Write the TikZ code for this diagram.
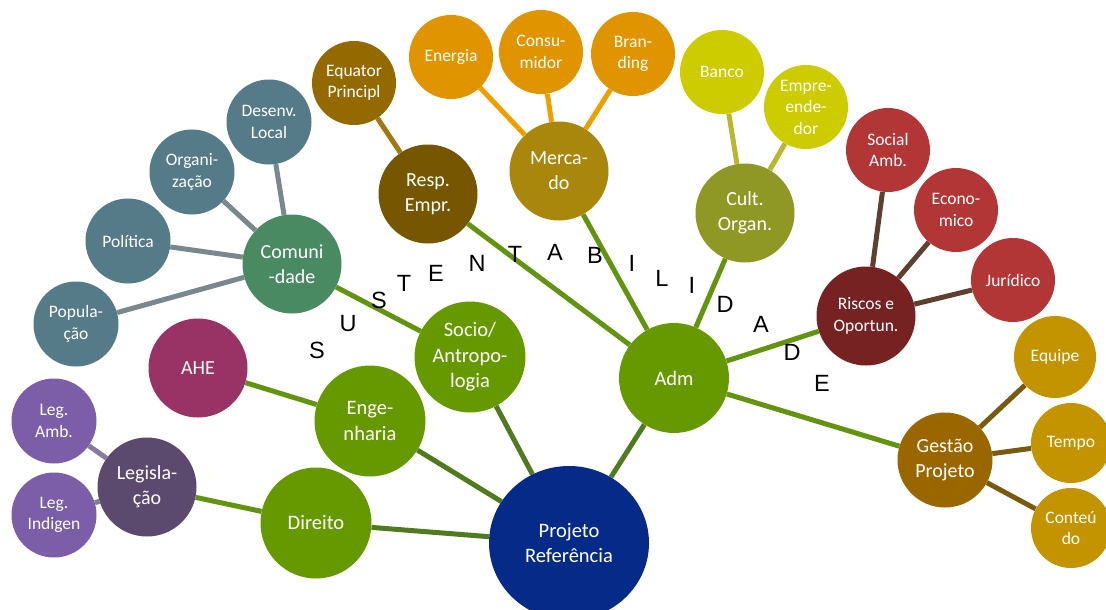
\documentclass[tikz,border=0pt]{standalone}
\usepackage{fontspec}
\setmainfont{Carlito}
\newfontfamily\letterfont{Liberation Sans}
\usetikzlibrary{backgrounds,shapes.geometric}
\definecolor{cblue}{RGB}{6,42,135}
\definecolor{cgreen}{RGB}{102,153,0}
\definecolor{lgreen}{RGB}{98,148,16}
\definecolor{lgreendk}{RGB}{80,122,30}
\definecolor{ccomu}{RGB}{74,138,98}
\definecolor{cbgray}{RGB}{85,122,136}
\definecolor{lgray}{RGB}{122,136,142}
\definecolor{cresp}{RGB}{118,86,0}
\definecolor{cequa}{RGB}{148,106,0}
\definecolor{lequa}{RGB}{160,122,16}
\definecolor{cmerc}{RGB}{169,135,13}
\definecolor{corange}{RGB}{224,149,0}
\definecolor{lorange}{RGB}{235,160,0}
\definecolor{ccult}{RGB}{144,152,37}
\definecolor{cyel}{RGB}{204,204,0}
\definecolor{lyel}{RGB}{184,184,48}
\definecolor{crisc}{RGB}{118,34,34}
\definecolor{cred}{RGB}{178,54,54}
\definecolor{lbrown}{RGB}{94,63,48}
\definecolor{cgest}{RGB}{154,102,0}
\definecolor{cgold}{RGB}{196,148,0}
\definecolor{lgold}{RGB}{122,90,16}
\definecolor{cahe}{RGB}{153,51,102}
\definecolor{clegis}{RGB}{92,74,110}
\definecolor{cleg}{RGB}{123,94,167}
\definecolor{llegis}{RGB}{138,122,154}
\tikzset{
  bub/.style={circle, inner sep=0pt, text=white, align=center},
  sm/.style={bub, minimum size=85pt, font=\fontsize{17.5}{21.5}\selectfont},
  md/.style={bub, minimum size=99pt, font=\fontsize{20}{25}\selectfont},
  lg/.style={bub, minimum size=111pt, font=\fontsize{20.5}{25.5}\selectfont},
  link/.style={line width=5pt},
  letter/.style={font=\letterfont\fontsize{23.5}{23.5}\selectfont, inner sep=0pt, text=black}
}
\begin{document}
\begin{tikzpicture}[x=1pt,y=-1pt]
\useasboundingbox (0,0) rectangle (1106,610);
% main
\node[ellipse, inner sep=0pt, minimum width=160pt, minimum height=154pt, fill=cblue, text=white, align=center, font=\fontsize{20.5}{25}\selectfont] (proj) at (569,543) {Projeto\\Referência};
\node[lg, fill=cgreen, minimum size=110pt] (adm) at (674,378) {Adm};
\node[lg, fill=cgreen] (socio) at (470,357) {Socio/\\Antropo-\\logia};
\node[lg, fill=cgreen] (eng) at (370,421) {Enge-\\nharia};
\node[lg, fill=cgreen] (dir) at (316,523) {Direito};
% left
\node[md, fill=ccomu] (comu) at (292,264) {Comuni\\-dade};
\node[sm, fill=cbgray] (desenv) at (269,122) {Desenv.\\Local};
\node[sm, fill=cbgray] (organ) at (192,172) {Organi-\\zação};
\node[sm, fill=cbgray] (polit) at (128,241) {Política};
\node[sm, fill=cbgray] (popul) at (76,324) {Popula-\\ção};
\node[md, fill=cahe] (ahe) at (198,368) {AHE};
\node[md, fill=clegis] (legis) at (147,487) {Legisla-\\ção};
\node[sm, fill=cleg] (legamb) at (54,421) {Leg.\\Amb.};
\node[sm, fill=cleg] (legind) at (54,515) {Leg.\\Indigen};
% top
\node[md, fill=cresp] (resp) at (428,194) {Resp.\\Empr.};
\node[sm, minimum size=84pt, fill=cequa] (equa) at (354,83) {Equator\\Principl};
\node[md, fill=cmerc] (merc) at (559,171) {Merca-\\do};
\node[sm, minimum size=84pt, fill=corange] (ener) at (451,57) {Energia};
\node[sm, minimum size=84pt, fill=corange] (cons) at (541,52) {Consu-\\midor};
\node[sm, minimum size=84pt, fill=corange] (brand) at (633,54) {Bran-\\ding};
\node[md, fill=ccult] (cult) at (745,213) {Cult.\\Organ.};
\node[sm, minimum size=84pt, fill=cyel] (banco) at (722,72) {Banco};
\node[sm, minimum size=84pt, fill=cyel] (empre) at (806,107) {Empre-\\ende-\\dor};
% right
\node[md, fill=crisc, font=\fontsize{17.5}{22}\selectfont] (risc) at (866,316) {Riscos e\\Oportun.};
\node[sm, minimum size=84pt, fill=cred] (social) at (888,150) {Social\\Amb.};
\node[sm, minimum size=84pt, fill=cred] (econ) at (956,210) {Econo-\\mico};
\node[sm, minimum size=84pt, fill=cred] (jur) at (1013,280) {Jurídico};
\node[md, minimum size=95pt, fill=cgest] (gest) at (945,460) {Gestão\\Projeto};
\node[sm, minimum size=82pt, fill=cgold] (equipe) at (1055,357) {Equipe};
\node[sm, minimum size=80pt, fill=cgold] (tempo) at (1071,443) {Tempo};
\node[sm, minimum size=80pt, fill=cgold] (cont) at (1071,528) {Conteú\\do};
% letters
\node[letter] (l1) at (317,350) {S};
\node[letter] (l2) at (348,324) {U};
\node[letter] (l3) at (379,300) {S};
\node[letter] (l4) at (404,283) {T};
\node[letter] (l5) at (436,273) {E};
\node[letter] (l6) at (477,263) {N};
\node[letter] (l7) at (515,254) {T};
\node[letter] (l8) at (555,252) {A};
\node[letter] (l9) at (595,255) {B};
\node[letter] (l10) at (632,263) {I};
\node[letter] (l11) at (662,278) {L};
\node[letter] (l12) at (692,285) {I};
\node[letter] (l13) at (725,304) {D};
\node[letter] (l14) at (761,324) {A};
\node[letter] (l15) at (792,352) {D};
\node[letter] (l16) at (822,383) {E};
\begin{pgfonlayer}{background}
\draw[link, lgreendk] (proj) -- (adm);
\draw[link, lgreendk] (proj) -- (socio);
\draw[link, lgreendk] (proj) -- (eng);
\draw[link, lgreendk] (proj) -- (dir);
\draw[link, lgreen] (adm) -- (resp);
\draw[link, lgreen] (adm) -- (merc);
\draw[link, lgreen] (adm) -- (cult);
\draw[link, lgreen] (adm) -- (risc);
\draw[link, lgreen] (adm) -- (gest);
\draw[link, lgreen] (socio) -- (comu);
\draw[link, lgreen] (eng) -- (ahe);
\draw[link, lgreen] (dir) -- (legis);
\draw[link, lgray] (comu) -- (desenv);
\draw[link, lgray] (comu) -- (organ);
\draw[link, lgray] (comu) -- (polit);
\draw[link, lgray] (comu) -- (popul);
\draw[link, lequa] (resp) -- (equa);
\draw[link, lorange] (merc) -- (ener);
\draw[link, lorange] (merc) -- (cons);
\draw[link, lorange] (merc) -- (brand);
\draw[link, lyel] (cult) -- (banco);
\draw[link, lyel] (cult) -- (empre);
\draw[link, lbrown] (risc) -- (social);
\draw[link, lbrown] (risc) -- (econ);
\draw[link, lbrown] (risc) -- (jur);
\draw[link, lgold] (gest) -- (equipe);
\draw[link, lgold] (gest) -- (tempo);
\draw[link, lgold] (gest) -- (cont);
\draw[link, llegis] (legis) -- (legamb);
\draw[link, llegis] (legis) -- (legind);
\end{pgfonlayer}
\end{tikzpicture}
\end{document}
